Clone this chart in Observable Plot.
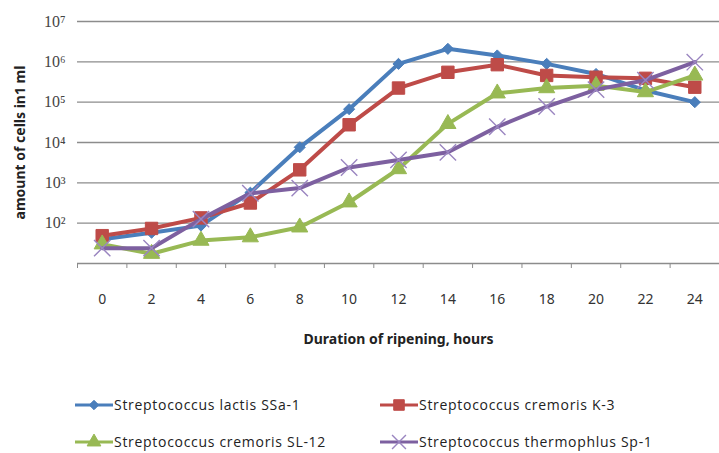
<!DOCTYPE html>
<html>
<head>
<meta charset="utf-8">
<script src="https://cdn.jsdelivr.net/npm/d3@7"></script>
<script src="https://cdn.jsdelivr.net/npm/@observablehq/plot@0.6"></script>
<style>
  body { margin: 0; background: #fff; }
  #chart { position: relative; width: 719px; height: 453px; background: #fff; font-family: "Open Sans", sans-serif; }
  #legend { display: grid; grid-template-columns: 305px 320px; grid-auto-rows: 37px; margin-left: 75px; margin-top: 21px; }
  .item { display: flex; align-items: center; font-size: 14px; letter-spacing: 0.7px; color: #222; white-space: nowrap; }
  .item svg { margin-right: 1px; }
</style>
</head>
<body>
<div id="chart"></div>
<script>
// ---- data ----
const hours = [0, 2, 4, 6, 8, 10, 12, 14, 16, 18, 20, 22, 24];
const lactisSSa1     = [40, 58, 87, 570, 7600, 67000, 890000, 2100000, 1440000, 890000, 500000, 195000, 100000];
const cremorisK3     = [49, 74, 135, 316, 2100, 27500, 224000, 550000, 850000, 460000, 415000, 390000, 235000];
const cremorisSL12   = [30, 17.5, 37, 45, 79, 330, 2200, 29000, 166000, 224000, 257000, 178000, 460000];
const thermophlusSp1 = [24, 24, 126, 550, 740, 2400, 3700, 5700, 24500, 78000, 205000, 350000, 980000];

const seriesNames = ["Streptococcus lactis SSa-1", "Streptococcus cremoris K-3", "Streptococcus cremoris SL-12", "Streptococcus thermophlus Sp-1"];
const seriesValues = [lactisSSa1, cremorisK3, cremorisSL12, thermophlusSp1];
const seriesColors = ["#4a7ebb", "#be4b48", "#98b954", "#7d60a0"];
const seriesSymbols = ["diamond2", "square", "triangle", "times"];
const seriesR = [5, 7, 6, 7.5];

const yTicks = [1e2, 1e3, 1e4, 1e5, 1e6, 1e7];
const yGrid = [1e1, 1e2, 1e3, 1e4, 1e5, 1e6, 1e7];
const yTitle = "amount of cells in1 ml";
const xTitle = "Duration of ripening, hours";

// ---- build ----
const sup = {"0":"⁰","1":"¹","2":"²","3":"³","4":"⁴","5":"⁵","6":"⁶","7":"⁷","8":"⁸","9":"⁹"};
const xBounds = hours.map(h => h - 1).concat([hours[hours.length - 1] + 1]);
const rows = seriesNames.map((name, s) => hours.map((h, i) => ({series: name, hour: h, value: seriesValues[s][i]})));
const gridColor = "#8c8c8c";

const seriesMarks = seriesNames.flatMap((name, s) => [
  Plot.line(rows[s], {x: "hour", y: "value", stroke: seriesColors[s], strokeWidth: 4, strokeLinejoin: "round"}),
  Plot.dot(rows[s], {
    x: "hour", y: "value", symbol: seriesSymbols[s], r: seriesR[s],
    fill: seriesSymbols[s] === "times" ? "none" : seriesColors[s],
    stroke: seriesSymbols[s] === "times" ? "#9a85c0" : seriesColors[s],
    strokeWidth: seriesSymbols[s] === "times" ? 1.4 : 1
  })
]);

const plot = Plot.plot({
  width: 719,
  height: 365,
  marginLeft: 77,
  marginRight: 0,
  marginTop: 21,
  marginBottom: 102,
  style: {background: "#fff", color: "#333"},
  x: {domain: [xBounds[0], xBounds[xBounds.length - 1]]},
  y: {type: "log", domain: [yGrid[0], yGrid[yGrid.length - 1]]},
  marks: [
    Plot.ruleY(yGrid, {stroke: gridColor, strokeWidth: 1.3}),
    Plot.axisX(xBounds, {tickSize: 5, tickFormat: () => "", stroke: gridColor, label: null}),
    Plot.axisX(hours, {tickSize: 0, tickPadding: 31, tickFormat: d => String(d), fontSize: 14, fill: "#333", label: null}),
    Plot.axisY(yTicks, {tickSize: 0, tickPadding: 12, tickFormat: d => "10" + String(Math.round(Math.log10(d))).split("").map(c => sup[c]).join(""), fontFamily: "Liberation Serif, serif", fontSize: 16, fill: "#444", label: null}),
    ...seriesMarks,
    Plot.text([xTitle], {frameAnchor: "bottom", dy: 80, fontWeight: "bold", fontSize: 14, fill: "#222"}),
    Plot.text([yTitle], {frameAnchor: "left", dx: -57, rotate: -90, textAnchor: "middle", fontWeight: "bold", fontSize: 14, fill: "#222"})
  ]
});

const chart = document.getElementById("chart");
chart.appendChild(plot);

// ---- legend ----
const legend = document.createElement("div");
legend.id = "legend";
const symMap = {diamond2: d3.symbolDiamond2, square: d3.symbolSquare, triangle: d3.symbolTriangle, times: d3.symbolTimes};
seriesNames.forEach((name, s) => {
  const item = document.createElement("div");
  item.className = "item";
  const sw = d3.create("svg").attr("width", 38).attr("height", 18);
  sw.append("line").attr("x1", 0).attr("x2", 38).attr("y1", 9).attr("y2", 9)
    .attr("stroke", seriesColors[s]).attr("stroke-width", 3);
  const rr = seriesR[s] * 0.85;
  const isTimes = seriesSymbols[s] === "times";
  sw.append("path").attr("transform", "translate(19,9)")
    .attr("d", d3.symbol(symMap[seriesSymbols[s]], Math.PI * rr * rr)())
    .attr("fill", isTimes ? "none" : seriesColors[s])
    .attr("stroke", isTimes ? "#9a85c0" : seriesColors[s])
    .attr("stroke-width", isTimes ? 1.4 : 1);
  item.appendChild(sw.node());
  const t = document.createElement("span");
  t.textContent = name;
  item.appendChild(t);
  legend.appendChild(item);
});
chart.appendChild(legend);
</script>
</body>
</html>
